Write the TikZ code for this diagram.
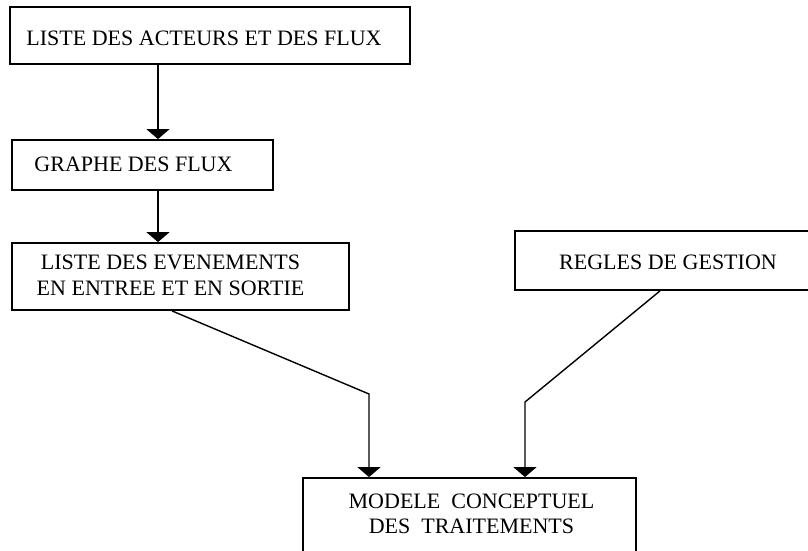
\documentclass[tikz,border=0pt]{standalone}
\usepackage{fontspec}
\setmainfont{Liberation Serif}
\usetikzlibrary{arrows.meta,positioning,calc}

\begin{document}
\begin{tikzpicture}[x=1pt,y=-1pt]
        \def\boxline{1.8}
        \tikzset{
          etape/.style={rectangle, draw, line width=\boxline pt, inner sep=0pt},
          lib/.style={font=\fontsize{22}{25.5}\selectfont, align=center, inner sep=0pt},
          flux/.style={line width=1.4pt, -{Triangle[width=23pt,length=10pt]}}
        }
        \useasboundingbox (0,0) rectangle (808,551);
        \clip (0,0) rectangle (808,551);

        \node(liste) [etape, minimum width=400pt, minimum height=57pt] at (210,35.5) {};
        \node(listeT) [lib] at ($(liste)+(-6,3)$) {LISTE DES ACTEURS ET DES FLUX};

        \node(graphe) [etape, minimum width=261pt, minimum height=50pt] at (142.5,165) {};
        \node(grapheT) [lib] at ($(graphe)+(-9,-1)$) {GRAPHE DES FLUX};

        \node(evenements) [etape, minimum width=337pt, minimum height=67pt] at (180.5,276.5) {};
        \node(evenementsT) [lib] at ($(evenements)+(-10,-1)$) {LISTE DES EVENEMENTS\\EN ENTREE ET EN SORTIE};

        \node(regles) [etape, minimum width=300pt, minimum height=59pt] at (665,260.5) {};
        \node(reglesT) [lib] at ($(regles)+(3,2)$) {REGLES DE GESTION};

        \node(modele) [etape, minimum width=333pt, minimum height=100pt] at (469.5,528) {};
        \node(modeleT) [lib] at ($(modele)+(2,-14)$) {MODELE \ CONCEPTUEL\\DES \ TRAITEMENTS};

        % points de passage des fleches
        \coordinate (c1) at (158,0);
        \coordinate (s1) at (172,0);
        \coordinate (k1) at (369,394);
        \coordinate (s2) at (660,0);
        \coordinate (k2) at (525,402);

        \draw[flux] (liste.south -| c1) -- (graphe.north -| c1);
        \draw[flux] (graphe.south -| c1) -- (evenements.north -| c1);
        \draw[flux] (evenements.south -| s1) -- (k1) -- (modele.north -| k1);
        \draw[flux] (regles.south -| s2) -- (k2) -- (modele.north -| k2);
    \end{tikzpicture}
\end{document}
